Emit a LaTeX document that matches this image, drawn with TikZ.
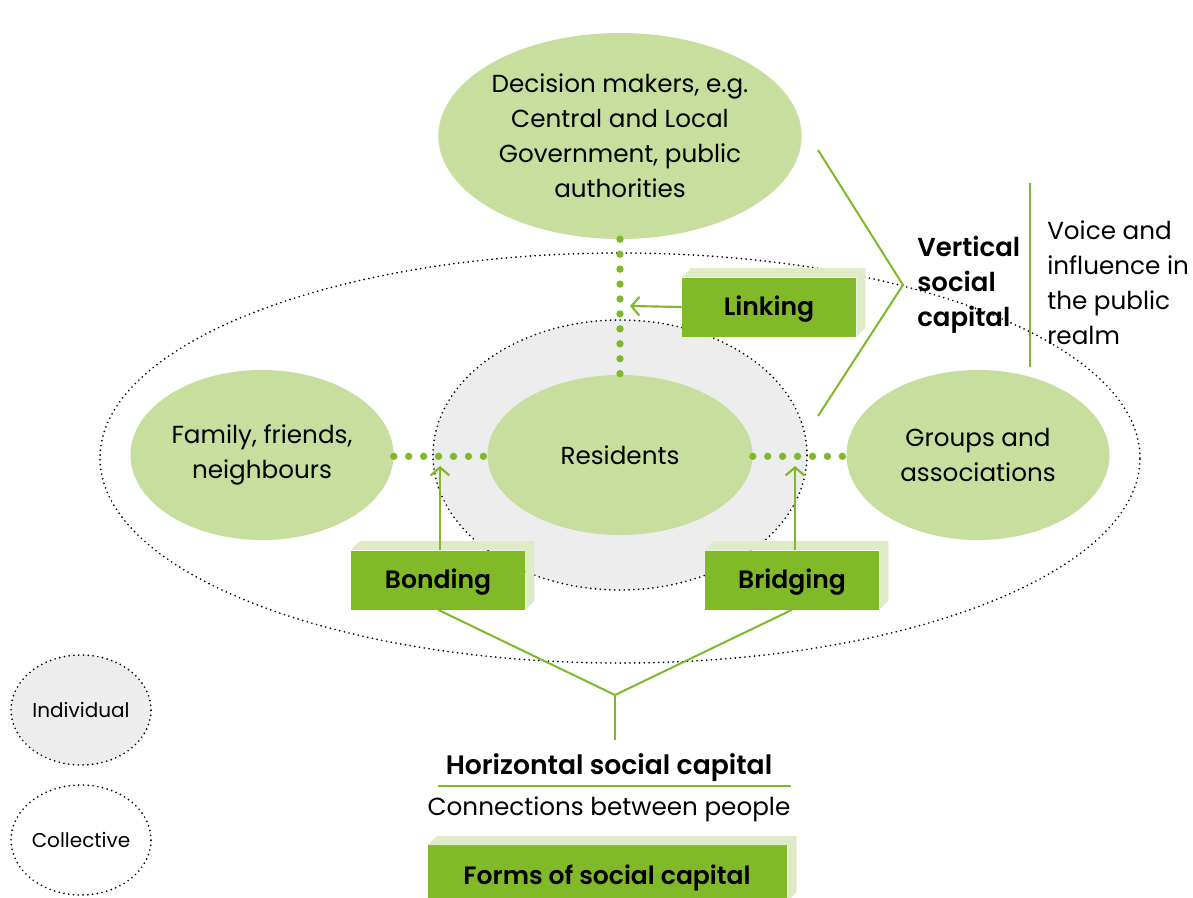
\documentclass[tikz,border=0pt]{standalone}
\usepackage{fontspec}
\setmainfont{Poppins}[BoldFont={Poppins SemiBold}]
\usetikzlibrary{shapes.geometric,arrows.meta}
\definecolor{gline}{HTML}{7DB928}
\definecolor{gbox}{HTML}{80BA28}
\definecolor{gback}{HTML}{DFEAC7}
\definecolor{gell}{HTML}{C8DE9F}
\definecolor{greyfill}{HTML}{EDEDED}
\tikzset{
  blackdots/.style={draw=black, line width=1.4pt, dash pattern=on 0pt off 3.6pt, line cap=round},
  gdots/.style={draw=gline, line width=5.5pt, dash pattern=on 0pt off 11.2pt, line cap=round},
  gell/.style={ellipse, fill=gell, inner sep=0pt, align=center, font=\fontsize{18.5}{26.25}\selectfont},
  gboxst/.style={rectangle, fill=gbox, inner sep=0pt, text height=13pt, text depth=0pt, font=\fontsize{18.8}{22}\selectfont\bfseries},
  gstroke/.style={draw=gline, line width=1.5pt},
  garrow/.style={draw=gline, line width=1.6pt, -{Straight Barb[length=6pt,width=14pt,line width=1.6pt]}},
  plain/.style={inner sep=0pt, align=left, font=\fontsize{18.5}{26.25}\selectfont},
}
\newcommand\backface[1]{%
  \fill[gback] (#1.north west) -- ++(9,-9) -- ([shift={(9,-9)}]#1.north east) -- ([shift={(9,-9)}]#1.south east) -- (#1.south east) -- (#1.north east) -- cycle;}
\begin{document}
\begin{tikzpicture}[x=0.75pt,y=-0.75pt]
\useasboundingbox (0,0) rectangle (1193,897);
% collective ellipse
\node[ellipse, blackdots, minimum width=780pt, minimum height=307.5pt, inner sep=0pt] (coll) at (620,458) {};
% individual ellipse
\node[ellipse, blackdots, fill=greyfill, minimum width=280.5pt, minimum height=202.5pt, inner sep=0pt] (indiv) at (620,455) {};
% main ellipses
\node[gell, minimum width=271.5pt, minimum height=154.5pt] (dec) at (620,136) {Decision makers, e.g.\\Central and Local\\Government, public\\authorities};
\node[gell, minimum width=198.75pt, minimum height=120pt] (res) at (620,455) {Residents};
\node[gell, minimum width=197.25pt, minimum height=127.5pt] (fam) at (262,455) {Family, friends,\\neighbours};
\node[gell, minimum width=197.25pt, minimum height=127.5pt] (grp) at (978,455) {Groups and\\associations};
% green dotted connectors
\draw[gdots] ([yshift=-1]fam.east) -- ([yshift=-1]res.west);
\draw[gdots] ([yshift=-1]res.east) -- ([yshift=-1]grp.west);
\draw[gdots] (dec.south) -- (res.north);
% boxes
\node[gboxst, minimum width=130.5pt, minimum height=44.25pt] (link) at (769,307) {Linking};
\backface{link}
\node[gboxst, minimum width=130.5pt, minimum height=44.25pt] (bond) at (438,580) {Bonding};
\backface{bond}
\node[gboxst, minimum width=130.5pt, minimum height=44.25pt] (brid) at (792,580) {Bridging};
\backface{brid}
\node[gboxst, minimum width=269.25pt, minimum height=42pt, anchor=north west] (forms) at (428,845) {};
\backface{forms}
\node[font=\fontsize{18.8}{22}\selectfont\bfseries, inner sep=0pt, text height=13pt, text depth=0pt] (formst) at (607,876) {Forms of social capital};
% arrows
\coordinate (lt) at (630,306);
\coordinate (bt) at (440,466);
\coordinate (rt) at (795,466);
\draw[garrow] (link.west) -- (lt);
\draw[garrow] (bond.north -| bt) -- (bt);
\draw[garrow] (brid.north -| rt) -- (rt);
% horizontal social capital lines
\coordinate (hj) at (615,695);
\coordinate (hb) at (615,740);
\draw[gstroke] (bond.south) -- (hj) -- (brid.south);
\draw[gstroke] (hj) -- (hb);
\node[font=\fontsize{20}{22}\selectfont\bfseries, inner sep=0pt] (hsc) at (609,768) {Horizontal social capital};
\coordinate (ul1) at (438,786);
\coordinate (ul2) at (791,786);
\draw[gstroke] (ul1) -- (ul2);
\node[plain] (conn) at (609,809) {Connections between people};
% vertical social capital
\coordinate (v1) at (818,150);
\coordinate (v2) at (903,285);
\coordinate (v3) at (818,416);
\draw[gstroke] (v1) -- (v2) -- (v3);
\node[plain, font=\fontsize{19.5}{26.25}\selectfont\bfseries, anchor=west] (vsc) at (917,285) {Vertical\\social\\capital};
\coordinate (w1) at (1030,183);
\coordinate (w2) at (1030,367);
\draw[gstroke] (w1) -- (w2);
\node[plain, anchor=west] (voice) at (1047,283) {Voice and\\influence in\\the public\\realm};
% legend
\node[ellipse, blackdots, fill=greyfill, minimum width=105pt, minimum height=82.5pt, inner sep=0pt, font=\fontsize{15}{18}\selectfont] (legi) at (81,710) {Individual};
\node[ellipse, blackdots, minimum width=105pt, minimum height=82.5pt, inner sep=0pt, font=\fontsize{15}{18}\selectfont] (legc) at (81,840) {Collective};
\end{tikzpicture}
\end{document}
